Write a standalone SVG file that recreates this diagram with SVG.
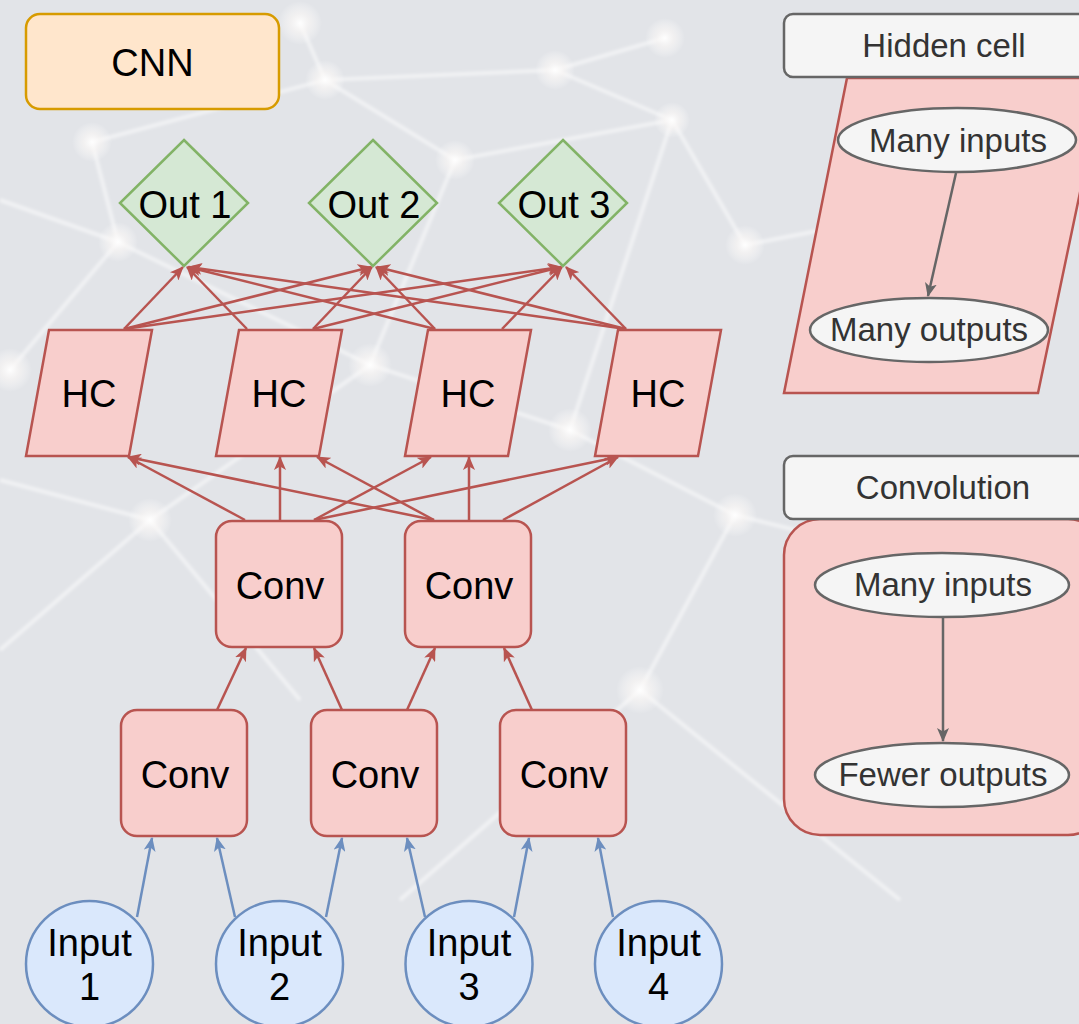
<svg xmlns="http://www.w3.org/2000/svg" width="1079" height="1024" viewBox="0 0 1079 1024">
<defs>
<radialGradient id="glow">
<stop offset="0" stop-color="#ffffff" stop-opacity="0.95"/>
<stop offset="0.45" stop-color="#fbf8f6" stop-opacity="0.6"/>
<stop offset="1" stop-color="#ffffff" stop-opacity="0"/>
</radialGradient>
<filter id="soft" x="-5%" y="-5%" width="110%" height="110%"><feGaussianBlur stdDeviation="1.8"/></filter>
<marker id="arR" markerUnits="userSpaceOnUse" markerWidth="14" markerHeight="12" refX="13" refY="6" orient="auto" viewBox="0 0 14 12">
<path d="M0,0 L14,6 L0,12 L3.5,6 Z" fill="#b85450"/>
</marker>
<marker id="arB" markerUnits="userSpaceOnUse" markerWidth="14" markerHeight="12" refX="13" refY="6" orient="auto" viewBox="0 0 14 12">
<path d="M0,0 L14,6 L0,12 L3.5,6 Z" fill="#6c8ebf"/>
</marker>
<marker id="arG" markerUnits="userSpaceOnUse" markerWidth="14" markerHeight="12" refX="13" refY="6" orient="auto" viewBox="0 0 14 12">
<path d="M0,0 L14,6 L0,12 L3.5,6 Z" fill="#666666"/>
</marker>
</defs>
<style>
text{font-family:"Liberation Sans",Arial,sans-serif;text-anchor:middle}
.main{font-size:38px;fill:#000}
.side{font-size:33px;fill:#333}
.red{fill:#f8cecc;stroke:#b85450;stroke-width:2.5}
.green{fill:#d5e8d4;stroke:#82b366;stroke-width:2.5}
.blue{fill:#dae8fc;stroke:#6c8ebf;stroke-width:2.5}
.gray{fill:#f5f5f5;stroke:#666666;stroke-width:2.5}
.er{stroke:#b85450;stroke-width:2.5;fill:none;marker-end:url(#arR)}
.eb{stroke:#6c8ebf;stroke-width:2.5;fill:none;marker-end:url(#arB)}
.eg{stroke:#666666;stroke-width:2.5;fill:none;marker-end:url(#arG)}
.bgl{stroke:#ffffff;stroke-opacity:0.5;stroke-width:4;fill:none}
</style>
<g id="background">
<rect x="0" y="0" width="1079" height="1024" fill="#e2e4e8"/>
<path class="bgl" filter="url(#soft)" d="M92,142 L325,80 L555,70 L665,38 M325,80 L455,160 L672,120 L745,245 M92,142 L118,242 L370,365 L570,430 L735,515 M455,160 L370,365 M118,242 L10,370 M150,520 L370,365 M672,120 L570,430 M735,515 L640,690 M150,520 L0,650 M555,70 L672,120 M300,23 L325,80 M0,200 L118,242 M745,245 L1079,180 M735,515 L1079,600 M640,690 L900,900 M150,520 L300,700 M0,480 L150,520 M640,690 L400,900"/>
<circle cx="300" cy="23" r="22" fill="url(#glow)"/>
<circle cx="325" cy="80" r="20" fill="url(#glow)"/>
<circle cx="92" cy="142" r="20" fill="url(#glow)"/>
<circle cx="118" cy="242" r="20" fill="url(#glow)"/>
<circle cx="555" cy="70" r="20" fill="url(#glow)"/>
<circle cx="665" cy="38" r="20" fill="url(#glow)"/>
<circle cx="455" cy="160" r="20" fill="url(#glow)"/>
<circle cx="672" cy="120" r="18" fill="url(#glow)"/>
<circle cx="745" cy="245" r="20" fill="url(#glow)"/>
<circle cx="370" cy="365" r="22" fill="url(#glow)"/>
<circle cx="570" cy="430" r="22" fill="url(#glow)"/>
<circle cx="150" cy="520" r="22" fill="url(#glow)"/>
<circle cx="735" cy="515" r="22" fill="url(#glow)"/>
<circle cx="640" cy="690" r="24" fill="url(#glow)"/>
<circle cx="10" cy="370" r="22" fill="url(#glow)"/>
</g>
<g id="connectors">
<path class="eb" d="M137,917 L152,838"/>
<path class="eb" d="M235,917 L217,838"/>
<path class="eb" d="M326,917 L342,838"/>
<path class="eb" d="M425,917 L407,838"/>
<path class="eb" d="M514,917 L529,838"/>
<path class="eb" d="M613,917 L598,838"/>
<path class="er" d="M217,710 L246,648"/>
<path class="er" d="M342,710 L314,648"/>
<path class="er" d="M407,710 L435,648"/>
<path class="er" d="M532,710 L504,648"/>
<path class="er" d="M245,520 L128,457"/>
<path class="er" d="M280,520 L280,457"/>
<path class="er" d="M314,520 L431,457"/>
<path class="er" d="M314,520 L618,457"/>
<path class="er" d="M434,520 L128,457"/>
<path class="er" d="M434,520 L317,457"/>
<path class="er" d="M469,520 L469,457"/>
<path class="er" d="M503,520 L618,457"/>
<path class="er" d="M124,329 L183,267"/>
<path class="er" d="M124,329 L371,267"/>
<path class="er" d="M124,329 L561,267"/>
<path class="er" d="M247,329 L187,267"/>
<path class="er" d="M313,329 L372,267"/>
<path class="er" d="M313,329 L561,267"/>
<path class="er" d="M435,329 L188,267"/>
<path class="er" d="M435,329 L376,267"/>
<path class="er" d="M502,329 L562,267"/>
<path class="er" d="M626,329 L189,267"/>
<path class="er" d="M626,329 L377,267"/>
<path class="er" d="M626,329 L566,267"/>
</g>
<g id="cnn">
<rect x="26" y="14" width="253" height="95" rx="14" fill="#ffe6cc" stroke="#d79b00" stroke-width="2.5"/>
<text class="main" x="152.5" y="76">CNN</text>
</g>
<g id="out1"><polygon class="green" points="184,140 248,203 184,266 120,203"/><text class="main" x="185" y="218">Out 1</text></g>
<g id="out2"><polygon class="green" points="373,140 437,203 373,266 309,203"/><text class="main" x="374" y="218">Out 2</text></g>
<g id="out3"><polygon class="green" points="563,140 627,203 563,266 499,203"/><text class="main" x="564" y="218">Out 3</text></g>
<g id="hc1"><polygon class="red" points="49,330 152,330 129,456 26,456"/><text class="main" x="89" y="407">HC</text></g>
<g id="hc2"><polygon class="red" points="239,330 342,330 319,456 216,456"/><text class="main" x="279" y="407">HC</text></g>
<g id="hc3"><polygon class="red" points="428,330 531,330 508,456 405,456"/><text class="main" x="468" y="407">HC</text></g>
<g id="hc4"><polygon class="red" points="618,330 721,330 698,456 595,456"/><text class="main" x="658" y="407">HC</text></g>
<g id="conv-u1"><rect class="red" x="216" y="521" width="126" height="126" rx="16"/><text class="main" x="280" y="599">Conv</text></g>
<g id="conv-u2"><rect class="red" x="405" y="521" width="126" height="126" rx="16"/><text class="main" x="469" y="599">Conv</text></g>
<g id="conv-l1"><rect class="red" x="121" y="710" width="126" height="126" rx="16"/><text class="main" x="185" y="788">Conv</text></g>
<g id="conv-l2"><rect class="red" x="311" y="710" width="126" height="126" rx="16"/><text class="main" x="375" y="788">Conv</text></g>
<g id="conv-l3"><rect class="red" x="500" y="710" width="126" height="126" rx="16"/><text class="main" x="564" y="788">Conv</text></g>
<g id="input1"><ellipse class="blue" cx="89.5" cy="964" rx="63.5" ry="63"/><text class="main" x="89.5" y="956">Input</text><text class="main" x="89.5" y="1000">1</text></g>
<g id="input2"><ellipse class="blue" cx="279.5" cy="964" rx="63.5" ry="63"/><text class="main" x="279.5" y="956">Input</text><text class="main" x="279.5" y="1000">2</text></g>
<g id="input3"><ellipse class="blue" cx="469" cy="964" rx="63.5" ry="63"/><text class="main" x="469" y="956">Input</text><text class="main" x="469" y="1000">3</text></g>
<g id="input4"><ellipse class="blue" cx="658.5" cy="964" rx="63.5" ry="63"/><text class="main" x="658.5" y="956">Input</text><text class="main" x="658.5" y="1000">4</text></g>
<g id="legend-hidden">
<polygon class="red" points="847,78 1104,78 1038,393 784,393"/>
<rect class="gray" x="784" y="14" width="320" height="63" rx="9"/>
<text class="side" x="944" y="57">Hidden cell</text>
<ellipse class="gray" cx="957" cy="140" rx="119" ry="32"/>
<text class="side" x="958" y="152">Many inputs</text>
<ellipse class="gray" cx="929" cy="330" rx="119" ry="32"/>
<text class="side" x="929" y="341">Many outputs</text>
<path class="eg" d="M956,173 L928,296"/>
</g>
<g id="legend-conv">
<rect class="red" x="784" y="519" width="320" height="316" rx="36"/>
<rect class="gray" x="784" y="456" width="320" height="63" rx="9"/>
<text class="side" x="943" y="499">Convolution</text>
<ellipse class="gray" cx="942" cy="585" rx="127" ry="32"/>
<text class="side" x="943" y="596">Many inputs</text>
<ellipse class="gray" cx="942" cy="775" rx="127" ry="32"/>
<text class="side" x="943" y="786">Fewer outputs</text>
<path class="eg" d="M943,617 L943,741"/>
</g>
</svg>
